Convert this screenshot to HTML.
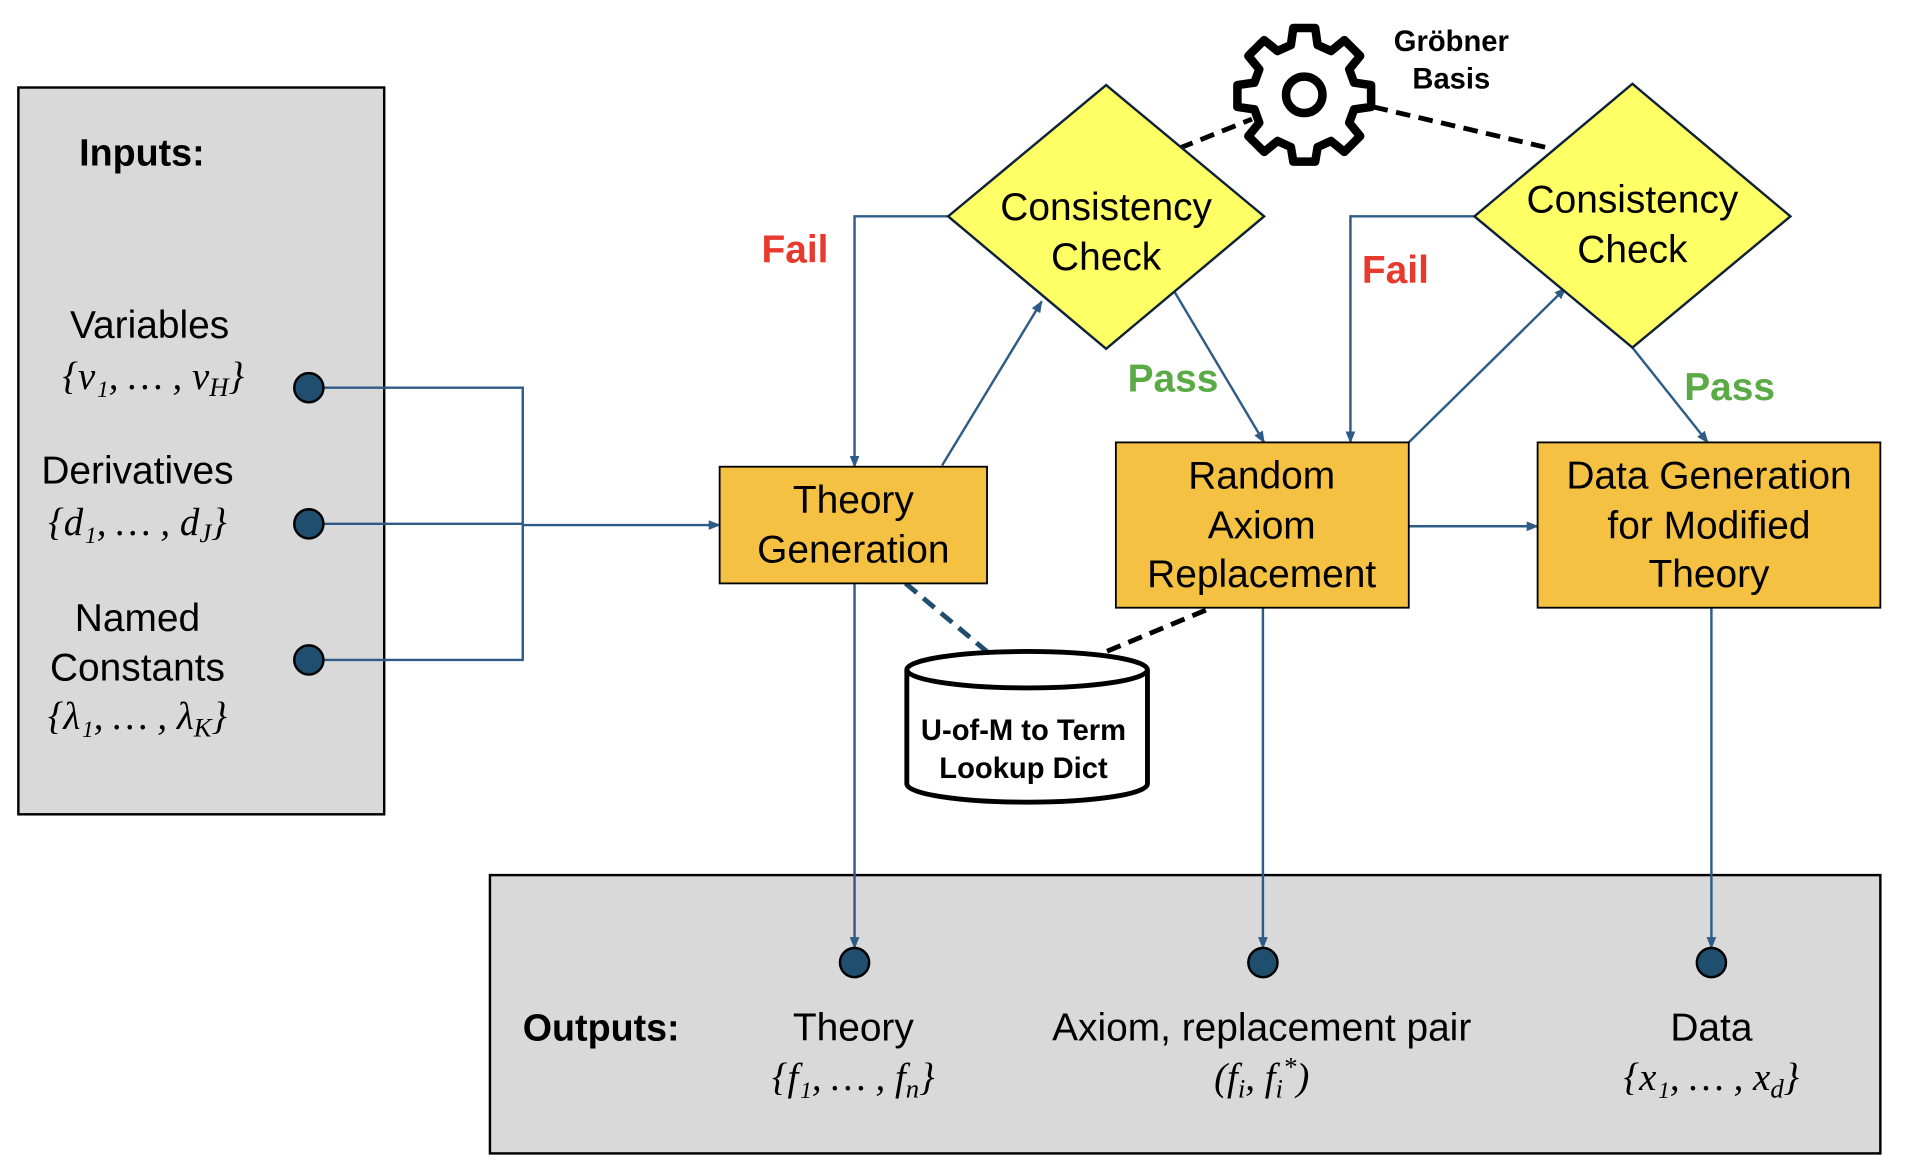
<!DOCTYPE html>
<html><head><meta charset="utf-8"><style>
html,body{margin:0;padding:0;background:#fff}
svg{display:block}
text{font-family:"Liberation Sans",sans-serif}
.m{font-family:"Liberation Serif",serif;font-style:italic}
</style></head><body>
<svg width="1906" height="1168" viewBox="0 0 1568 961" xmlns="http://www.w3.org/2000/svg">
<defs>
<marker id="a" markerWidth="10" markerHeight="8" refX="9" refY="4" orient="auto" markerUnits="userSpaceOnUse">
<path d="M0,0 L10,4 L0,8 z" fill="#2e5c86"/></marker>
</defs>
<!-- Inputs -->
<rect x="15" y="72" width="301" height="598" fill="#d9d9d9" stroke="#000" stroke-width="2"/>
<text x="65" y="136" font-size="31" font-weight="bold">Inputs:</text>
<text x="123" y="278" font-size="32" text-anchor="middle">Variables</text>
<text x="126" y="320" font-size="32" text-anchor="middle" class="m">{v₁, … , v<tspan font-size="22" dy="6">H</tspan><tspan dy="-6">}</tspan></text>
<text x="113" y="398" font-size="32" text-anchor="middle">Derivatives</text>
<text x="113" y="440" font-size="32" text-anchor="middle" class="m">{d₁, … , d<tspan font-size="22" dy="6">J</tspan><tspan dy="-6">}</tspan></text>
<text x="113" y="519" font-size="32" text-anchor="middle">Named</text>
<text x="113" y="560" font-size="32" text-anchor="middle">Constants</text>
<text x="113" y="600" font-size="32" text-anchor="middle" class="m">{λ₁, … , λ<tspan font-size="22" dy="6">K</tspan><tspan dy="-6">}</tspan></text>
<!-- outputs box -->
<rect x="403" y="720" width="1144" height="229" fill="#d9d9d9" stroke="#000" stroke-width="2"/>
<g stroke="#2e5c86" stroke-width="2" fill="none">
<path d="M254,319 H430 V543 H254 M254,431 H430 M430,432 H592" marker-end="url(#a)"/>
<path d="M780,178 H703 V384" marker-end="url(#a)"/>
<path d="M775,383 L857,248" marker-end="url(#a)"/>
<path d="M965,238 L1040,364" marker-end="url(#a)"/>
<path d="M1159,433 H1265" marker-end="url(#a)"/>
<path d="M1159,364 L1288,237" marker-end="url(#a)"/>
<path d="M1213,178 H1111 V364" marker-end="url(#a)"/>
<path d="M1343,286 L1405,364" marker-end="url(#a)"/>
<path d="M703,480 V780" marker-end="url(#a)"/>
<path d="M1039,500 V780" marker-end="url(#a)"/>
<path d="M1408,500 V780" marker-end="url(#a)"/>
</g>
<g fill="#1f4e6e" stroke="#000" stroke-width="2">
<circle cx="254" cy="319" r="12"/><circle cx="254" cy="431" r="12"/><circle cx="254" cy="543" r="12"/>
</g>
<!-- dashed -->
<g stroke="#000" stroke-width="4" stroke-dasharray="12,7" fill="none">
<path d="M970,122 L1030,98"/><path d="M1130,88 L1275,122"/><path d="M992,502 L908,537"/>
</g>
<path d="M745,480 L813,537" stroke="#1f4e6e" stroke-width="4" stroke-dasharray="12,7"/>
<!-- diamonds -->
<polygon points="910,70 1040,178 910,287 780,178" fill="#ffff66" stroke="#0d2236" stroke-width="2"/>
<polygon points="1343,69 1473,178 1343,286 1213,178" fill="#ffff66" stroke="#0d2236" stroke-width="2"/>
<text x="910" y="181" font-size="32" text-anchor="middle">Consistency</text>
<text x="910" y="222" font-size="32" text-anchor="middle">Check</text>
<text x="1343" y="175" font-size="32" text-anchor="middle">Consistency</text>
<text x="1343" y="216" font-size="32" text-anchor="middle">Check</text>
<!-- boxes -->
<rect x="592" y="384" width="220" height="96" fill="#f4c142" stroke="#000" stroke-width="1.5"/>
<text x="702" y="422" font-size="32" text-anchor="middle">Theory</text>
<text x="702" y="463" font-size="32" text-anchor="middle">Generation</text>
<rect x="918" y="364" width="241" height="136" fill="#f4c142" stroke="#000" stroke-width="1.5"/>
<text x="1038" y="402" font-size="32" text-anchor="middle">Random</text>
<text x="1038" y="443" font-size="32" text-anchor="middle">Axiom</text>
<text x="1038" y="483" font-size="32" text-anchor="middle">Replacement</text>
<rect x="1265" y="364" width="282" height="136" fill="#f4c142" stroke="#000" stroke-width="1.5"/>
<text x="1406" y="402" font-size="32" text-anchor="middle">Data Generation</text>
<text x="1406" y="443" font-size="32" text-anchor="middle">for Modified</text>
<text x="1406" y="483" font-size="32" text-anchor="middle">Theory</text>
<!-- labels -->
<g font-size="32" font-weight="bold">
<text x="654" y="216" text-anchor="middle" fill="#e8392d">Fail</text>
<text x="1148" y="233" text-anchor="middle" fill="#e8392d">Fail</text>
<text x="965" y="322" text-anchor="middle" fill="#5aaa46">Pass</text>
<text x="1423" y="329" text-anchor="middle" fill="#5aaa46">Pass</text>
</g>
<!-- gear -->
<g transform="translate(1073,78)" stroke="#000" stroke-width="7" fill="#fff" stroke-linejoin="round">
<path d="M-9,-52 L9,-52 L11,-38 L22,-33 L33,-42 L46,-29 L37,-18 L41,-7 L55,-5 L55,13 L41,15 L37,26 L46,37 L33,50 L22,41 L11,46 L9,58 L-9,58 L-11,46 L-22,41 L-33,50 L-46,37 L-37,26 L-41,15 L-55,13 L-55,-5 L-41,-7 L-37,-18 L-46,-29 L-33,-42 L-22,-33 L-11,-38 Z" transform="translate(0,-3)"/>
<circle cx="0" cy="0" r="15"/>
</g>
<text x="1194" y="42" font-size="24" font-weight="bold" text-anchor="middle">Gröbner</text>
<text x="1194" y="73" font-size="24" font-weight="bold" text-anchor="middle">Basis</text>
<!-- cylinder -->
<path d="M746,551 V645 A99,15 0 0 0 944,645 V551" fill="#fff" stroke="#000" stroke-width="4"/>
<ellipse cx="845" cy="551" rx="99" ry="15" fill="#fff" stroke="#000" stroke-width="4"/>
<text x="842" y="609" font-size="24" font-weight="bold" text-anchor="middle">U-of-M to Term</text>
<text x="842" y="640" font-size="24" font-weight="bold" text-anchor="middle">Lookup Dict</text>
<!-- outputs -->
<g fill="#1f4e6e" stroke="#000" stroke-width="2">
<circle cx="703" cy="792" r="12"/><circle cx="1039" cy="792" r="12"/><circle cx="1408" cy="792" r="12"/>
</g>
<text x="430" y="856" font-size="31" font-weight="bold">Outputs:</text>
<text x="702" y="856" font-size="32" text-anchor="middle">Theory</text>
<text x="702" y="897" font-size="32" text-anchor="middle" class="m">{f₁, … , f<tspan font-size="22" dy="6">n</tspan><tspan dy="-6">}</tspan></text>
<text x="1038" y="856" font-size="32" text-anchor="middle">Axiom, replacement pair</text>
<text x="1038" y="897" font-size="32" text-anchor="middle" class="m">(f<tspan font-size="22" dy="6">i</tspan><tspan dy="-6">, f</tspan><tspan font-size="22" dy="6">i</tspan><tspan font-size="22" dy="-18">*</tspan><tspan dy="12">)</tspan></text>
<text x="1408" y="856" font-size="32" text-anchor="middle">Data</text>
<text x="1408" y="897" font-size="32" text-anchor="middle" class="m">{x₁, … , x<tspan font-size="22" dy="6">d</tspan><tspan dy="-6">}</tspan></text>
</svg>
</body></html>
